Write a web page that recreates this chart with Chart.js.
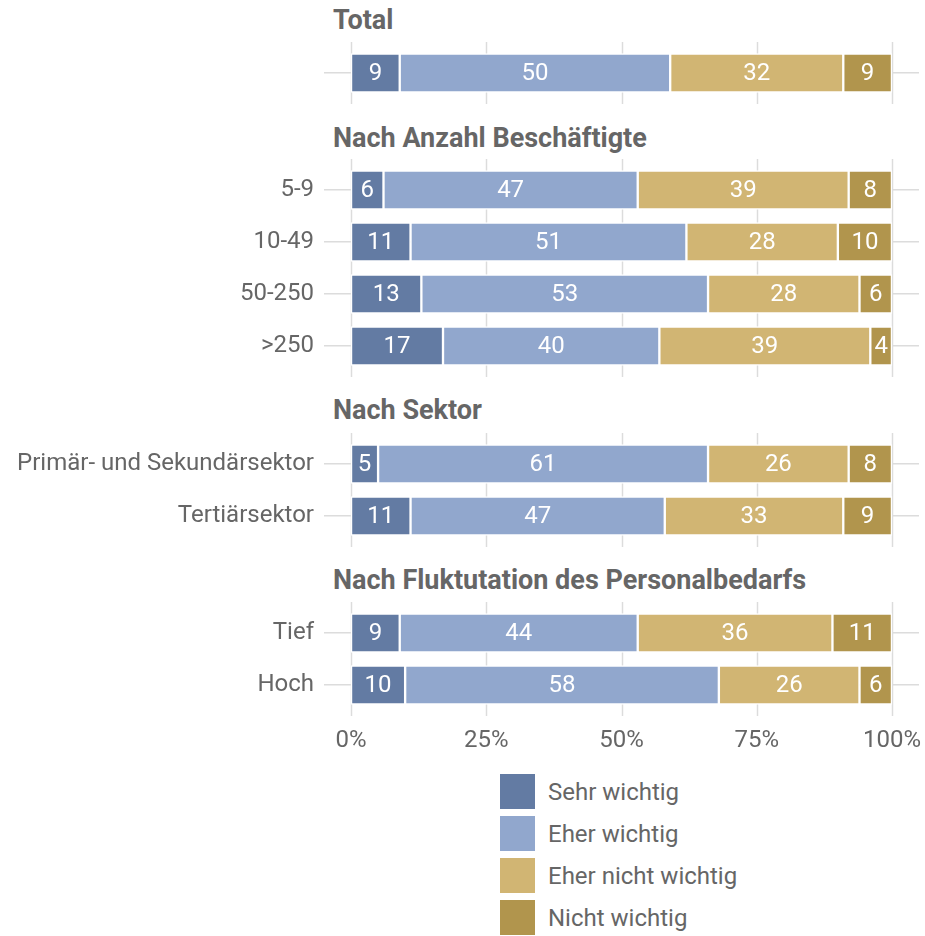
<!DOCTYPE html>
<html>
<head>
<meta charset="utf-8">
<script src="https://cdn.jsdelivr.net/npm/chart.js@4.4.1/dist/chart.umd.min.js"></script>
<style>
  body { margin: 0; background: #fff; font-family: Roboto, sans-serif; color: #666; }
  #wrap { position: relative; width: 925px; height: 936px; overflow: hidden; }
  .panel { position: absolute; left: 0; }
  .title { position: absolute; left: 333px; font-weight: bold; font-size: 27px; line-height: 30px; white-space: nowrap; }
  #legend { position: absolute; left: 500px; top: 774px; }
  .item { display: flex; align-items: center; height: 35px; margin-bottom: 7px; font-size: 24px; }
  .box { width: 35px; height: 35px; margin-right: 13px; }
</style>
</head>
<body>
<div id="wrap"></div>
<script>
// panels and rows
const groupTitles = ["Total", "Nach Anzahl Beschäftigte", "Nach Sektor", "Nach Fluktutation des Personalbedarfs"];
const rowLabels = ["", "5-9", "10-49", "50-250", ">250", "Primär- und Sekundärsektor", "Tertiärsektor", "Tief", "Hoch"];
const rowGroup = [0, 1, 1, 1, 1, 2, 2, 3, 3];

// answers in percent
const seriesNames = ["Sehr wichtig", "Eher wichtig", "Eher nicht wichtig", "Nicht wichtig"];
const sehrWichtig = [9, 6, 11, 13, 17, 5, 11, 9, 10];
const eherWichtig = [50, 47, 51, 53, 40, 61, 47, 44, 58];
const eherNichtWichtig = [32, 39, 28, 28, 39, 26, 33, 36, 26];
const nichtWichtig = [9, 8, 10, 6, 4, 8, 9, 11, 6];
const xTicks = [0, 25, 50, 75, 100];

const seriesValues = [sehrWichtig, eherWichtig, eherNichtWichtig, nichtWichtig];
const colors = ["#637ba3", "#91a7cd", "#d1b573", "#b1954d"];

const ROW = 52;       // px per category
const EXT = 5;        // grid lines reach a bit past the plot area
const PAD = 8;
const AXIS_H = 50;
const areaTops = [47, 164, 438, 607];
const titleTops = [5, 123, 395, 565];
const FONT = "Roboto, sans-serif";
const GRID = "#dcdcdc";

// vertical grid lines, drawn under the bars
const vGridPlugin = {
    id: "vGrid",
    beforeDatasetsDraw(chart){
        let ctx = chart.ctx;
        let area = chart.chartArea;
        let xs = chart.scales.x;
        ctx.save();
        ctx.strokeStyle = GRID;
        ctx.lineWidth = 1.5;
        xTicks.forEach(v => {
            let px = Math.round(xs.getPixelForValue(v)) + 0.5;
            ctx.beginPath();
            ctx.moveTo(px, area.top - EXT);
            ctx.lineTo(px, area.bottom + EXT);
            ctx.stroke();
        });
        ctx.restore();
    }
};

// numbers inside the segments
const valueLabelPlugin = {
    id: "valueLabels",
    afterDatasetsDraw(chart){
        let ctx = chart.ctx;
        ctx.save();
        ctx.fillStyle = "#fff";
        ctx.font = "24px " + FONT;
        ctx.textAlign = "center";
        ctx.textBaseline = "middle";
        chart.data.datasets.forEach((ds, i) => {
            chart.getDatasetMeta(i).data.forEach((bar, j) => {
                let p = bar.getProps(["x", "y", "base"], true);
                ctx.fillText(String(ds.data[j]), (p.x + p.base) / 2, p.y + 1);
            });
        });
        ctx.restore();
    }
};

const wrap = document.getElementById("wrap");

groupTitles.forEach((title, g) => {
    let idx = [];
    rowGroup.forEach((grp, i) => { if(grp == g) idx.push(i); });
    let last = g == groupTitles.length - 1;

    let t = document.createElement("div");
    t.className = "title";
    t.style.top = titleTops[g] + "px";
    t.textContent = title;
    wrap.appendChild(t);

    let h = idx.length * ROW + PAD * 2 + (last ? AXIS_H : 0);
    let div = document.createElement("div");
    div.className = "panel";
    div.style.top = (areaTops[g] - PAD) + "px";
    let canvas = document.createElement("canvas");
    canvas.width = 925;
    canvas.height = h;
    canvas.style.width = "925px";
    canvas.style.height = h + "px";
    div.appendChild(canvas);
    wrap.appendChild(div);

    new Chart(canvas, {
        type: "bar",
        data: {
            labels: idx.map(i => rowLabels[i]),
            datasets: seriesValues.map((vals, s) => ({
                label: seriesNames[s],
                data: idx.map(i => vals[i]),
                backgroundColor: colors[s],
                borderColor: "#fff",
                borderWidth: 1.5,
                borderSkipped: false,
                barThickness: 39
            }))
        },
        options: {
            indexAxis: "y",
            responsive: false,
            animation: false,
            devicePixelRatio: 1,
            layout: { padding: { top: PAD, bottom: PAD, left: 0, right: 6 } },
            plugins: { legend: { display: false }, tooltip: { enabled: false } },
            scales: {
                x: {
                    stacked: true,
                    min: -5,
                    max: 105,
                    afterBuildTicks: (scale) => { scale.ticks = xTicks.map(v => ({ value: v })); },
                    afterFit: (scale) => {
                        scale.height = last ? AXIS_H : 0;
                        scale.paddingLeft = 0;
                        scale.paddingRight = 0;
                    },
                    grid: { display: false },
                    border: { display: false },
                    ticks: {
                        display: last,
                        color: "#666",
                        font: { family: FONT, size: 24 },
                        padding: 8,
                        maxRotation: 0,
                        callback: (v) => v + "%"
                    }
                },
                y: {
                    stacked: true,
                    afterFit: (scale) => {
                        scale.width = 324;
                        scale.paddingTop = 0;
                        scale.paddingBottom = 0;
                    },
                    grid: { color: GRID, lineWidth: 1.5, offset: false, drawTicks: false },
                    border: { display: false },
                    ticks: {
                        color: "#666",
                        font: { family: FONT, size: 24 },
                        padding: 10
                    }
                }
            }
        },
        plugins: [vGridPlugin, valueLabelPlugin]
    });
});

// legend
let legend = document.createElement("div");
legend.id = "legend";
seriesNames.forEach((name, s) => {
    let item = document.createElement("div");
    item.className = "item";
    let box = document.createElement("div");
    box.className = "box";
    box.style.background = colors[s];
    let label = document.createElement("span");
    label.textContent = name;
    item.appendChild(box);
    item.appendChild(label);
    legend.appendChild(item);
});
wrap.appendChild(legend);
</script>
</body>
</html>
